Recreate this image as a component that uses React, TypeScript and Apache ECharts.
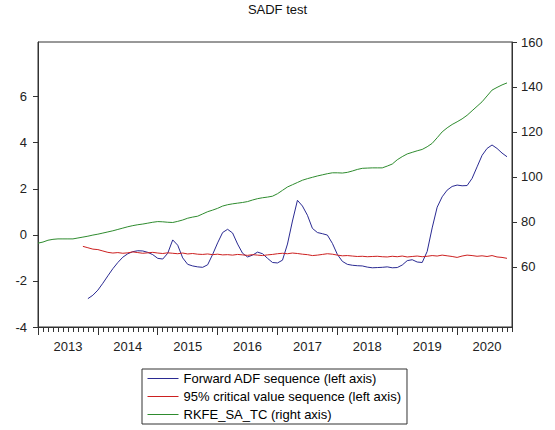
import React, { useEffect, useRef } from "react";
import * as echarts from "echarts";

// Tick labels
const YEAR_LABELS = ["2013", "2014", "2015", "2016", "2017", "2018", "2019", "2020"];
const LEFT_TICKS = [-4, -2, 0, 2, 4, 6];
const RIGHT_TICKS = [60, 80, 100, 120, 140, 160];

// Monthly data, month index 0 = 2013M01
const RKFE_START = 0;
const RKFE_SA_TC = [
  70.5, 71.0, 71.8, 72.2, 72.4, 72.4, 72.4, 72.4, 72.8, 73.2,
  73.6, 74.1, 74.5, 75.0, 75.5, 76.0, 76.6, 77.2, 77.8, 78.3,
  78.7, 79.0, 79.4, 79.8, 80.1, 80.0, 79.8, 79.7, 80.2, 80.8,
  81.6, 82.1, 82.5, 83.5, 84.5, 85.2, 86.0, 87.0, 87.6, 88.0,
  88.3, 88.6, 89.0, 89.7, 90.3, 90.7, 91.0, 91.4, 92.5, 94.0,
  95.5, 96.5, 97.5, 98.5, 99.2, 99.8, 100.4, 100.9, 101.4, 101.8,
  101.8, 101.7, 102.0, 102.6, 103.3, 103.8, 103.9, 104.0, 104.0, 104.0,
  104.8, 105.7, 107.6, 109.0, 110.2, 110.9, 111.6, 112.2, 113.4, 114.9,
  117.4, 120.0, 121.8, 123.3, 124.5, 125.8, 127.4, 129.4, 131.4, 133.4,
  136.0, 138.6, 139.8, 140.9, 141.8,
];

const ADF_START = 10;
const FORWARD_ADF = [
  -2.77, -2.62, -2.40, -2.10, -1.78, -1.47, -1.20, -0.97, -0.82, -0.73,
  -0.69, -0.70, -0.76, -0.86, -1.02, -1.05, -0.80, -0.22, -0.45, -1.00,
  -1.28, -1.35, -1.39, -1.41, -1.30, -0.85, -0.35, 0.10, 0.24, 0.08,
  -0.40, -0.80, -0.96, -0.88, -0.75, -0.82, -1.02, -1.20, -1.22, -1.10,
  -0.40, 0.60, 1.50, 1.25, 0.85, 0.28, 0.10, 0.05, -0.01, -0.37,
  -0.85, -1.15, -1.28, -1.32, -1.34, -1.35, -1.40, -1.43, -1.42, -1.41,
  -1.39, -1.43, -1.42, -1.31, -1.12, -1.08, -1.18, -1.20, -0.72, 0.30,
  1.20, 1.65, 1.94, 2.10, 2.16, 2.13, 2.14, 2.45, 2.95, 3.45,
  3.75, 3.90, 3.75, 3.55, 3.39,
];

const CV_START = 9;
const CRITICAL_95 = [
  -0.50, -0.56, -0.62, -0.64, -0.70, -0.76, -0.79, -0.77, -0.80, -0.78,
  -0.74, -0.77, -0.80, -0.78, -0.76, -0.79, -0.81, -0.78, -0.80, -0.82,
  -0.79, -0.83, -0.81, -0.84, -0.85, -0.83, -0.86, -0.84, -0.87, -0.86,
  -0.88, -0.85, -0.87, -0.89, -0.86, -0.88, -0.90, -0.87, -0.85, -0.82,
  -0.80, -0.82, -0.79, -0.81, -0.84, -0.86, -0.90, -0.88, -0.85, -0.82,
  -0.84, -0.88, -0.91, -0.90, -0.92, -0.94, -0.93, -0.95, -0.94, -0.93,
  -0.95, -0.96, -0.93, -0.95, -0.92, -0.96, -0.94, -0.92, -0.95, -0.93,
  -0.90, -0.92, -0.88, -0.91, -0.94, -0.98, -0.92, -0.88, -0.90, -0.93,
  -0.91, -0.94, -0.90, -0.96, -0.98, -1.02,
];

const SERIES_NAMES = [
  "Forward ADF sequence (left axis)",
  "95% critical value sequence (left axis)",
  "RKFE_SA_TC (right axis)",
];

const X_MIN = 0;
const X_MAX = 95;

const FONT = "'Liberation Sans', Arial, sans-serif";
const AXIS_COLOR = "#333";

export default function App() {
  const ref = useRef<HTMLDivElement>(null);

  useEffect(() => {
    if (!ref.current) return;
    const chart = echarts.init(ref.current, undefined, { renderer: "svg" });

    const toPairs = (arr: number[], start: number) => arr.map((v, i) => [start + i, v]);
    const monthTicks: number[] = [];
    for (let m = X_MIN; m <= X_MAX; m++) monthTicks.push(m);
    const yearTicks = YEAR_LABELS.map((_, i) => i * 12);
    const yearLabelPos = YEAR_LABELS.map((_, i) => i * 12 + 6);

    chart.setOption({
      animation: false,
      backgroundColor: "#fff",
      textStyle: { fontFamily: FONT },
      title: {
        text: "SADF test",
        left: "center",
        top: 3,
        padding: 0,
        textStyle: { fontFamily: FONT, fontSize: 13, fontWeight: "normal", color: "#111" },
      },
      grid: {
        left: 38,
        right: 43,
        top: 42,
        bottom: 103,
        show: true,
        borderColor: AXIS_COLOR,
        borderWidth: 1,
        containLabel: false,
        outerBoundsMode: "none",
      },
      legend: {
        left: 142,
        top: 369,
        orient: "vertical",
        padding: [3, 6, 3, 5],
        itemGap: 5,
        itemWidth: 31,
        itemHeight: 13,
        borderColor: AXIS_COLOR,
        borderWidth: 1,
        selectedMode: false,
        itemStyle: { opacity: 0, color: "transparent", borderWidth: 0 },
        lineStyle: { width: 1 },
        textStyle: { fontFamily: FONT, fontSize: 13, color: "#000" },
        data: SERIES_NAMES,
      },
      xAxis: [
        {
          type: "value",
          min: X_MIN,
          max: X_MAX,
          position: "bottom",
          axisLine: { show: true, onZero: false, lineStyle: { color: AXIS_COLOR } },
          axisTick: {
            show: true,
            inside: false,
            length: 5,
            customValues: monthTicks,
            lineStyle: { color: AXIS_COLOR },
          },
          axisLabel: { show: false },
          splitLine: { show: false },
        },
        {
          type: "value",
          min: X_MIN,
          max: X_MAX,
          position: "bottom",
          axisLine: { show: false, onZero: false },
          axisTick: {
            show: true,
            inside: false,
            length: 8,
            customValues: yearTicks,
            lineStyle: { color: AXIS_COLOR },
          },
          axisLabel: {
            show: true,
            margin: 13,
            customValues: yearLabelPos,
            formatter: (v: number) => YEAR_LABELS[Math.round((v - 6) / 12)] ?? "",
            fontFamily: FONT,
            fontSize: 13,
            color: "#222",
          },
          splitLine: { show: false },
        },
      ],
      yAxis: [
        {
          type: "value",
          position: "left",
          min: -4,
          max: 8.37,
          axisLine: { show: true, onZero: false, lineStyle: { color: AXIS_COLOR } },
          axisTick: {
            show: true,
            inside: false,
            length: 5,
            customValues: LEFT_TICKS,
            lineStyle: { color: AXIS_COLOR },
          },
          axisLabel: {
            show: true,
            margin: 11,
            customValues: LEFT_TICKS,
            fontFamily: FONT,
            fontSize: 13,
            color: "#222",
          },
          splitLine: { show: false },
        },
        {
          type: "value",
          position: "right",
          min: 33.2,
          max: 160,
          axisLine: { show: true, onZero: false, lineStyle: { color: AXIS_COLOR } },
          axisTick: {
            show: true,
            inside: false,
            length: 5,
            customValues: RIGHT_TICKS,
            lineStyle: { color: AXIS_COLOR },
          },
          axisLabel: {
            show: true,
            margin: 9,
            customValues: RIGHT_TICKS,
            fontFamily: FONT,
            fontSize: 13,
            color: "#222",
          },
          splitLine: { show: false },
        },
      ],
      series: [
        {
          name: SERIES_NAMES[0],
          type: "line",
          xAxisIndex: 0,
          yAxisIndex: 0,
          symbol: "none",
          color: "#2a2a92",
          lineStyle: { width: 1, color: "#2a2a92" },
          data: toPairs(FORWARD_ADF, ADF_START),
        },
        {
          name: SERIES_NAMES[1],
          type: "line",
          xAxisIndex: 0,
          yAxisIndex: 0,
          symbol: "none",
          color: "#cc2020",
          lineStyle: { width: 1, color: "#cc2020" },
          data: toPairs(CRITICAL_95, CV_START),
        },
        {
          name: SERIES_NAMES[2],
          type: "line",
          xAxisIndex: 0,
          yAxisIndex: 1,
          symbol: "none",
          color: "#2e8b2e",
          lineStyle: { width: 1, color: "#2e8b2e" },
          data: toPairs(RKFE_SA_TC, RKFE_START),
        },
      ],
    });

    return () => chart.dispose();
  }, []);

  return (
    <div
      ref={ref}
      style={{ position: "fixed", left: 0, top: 0, width: 555, height: 430, background: "#fff" }}
    />
  );
}
